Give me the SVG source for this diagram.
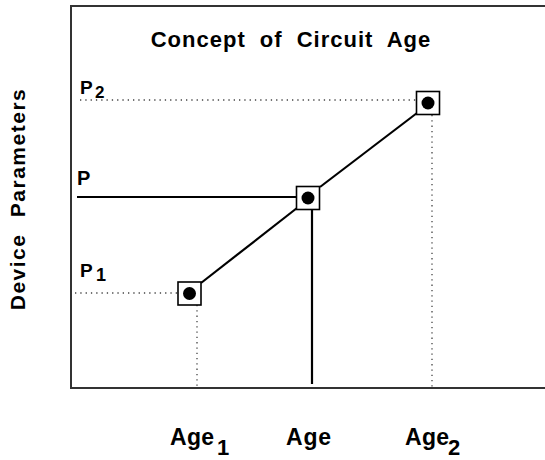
<svg xmlns="http://www.w3.org/2000/svg" width="545" height="460" viewBox="0 0 545 460">
<style>
text{font-family:"Liberation Sans",Arial,sans-serif;font-weight:bold;fill:#000}
.frame{fill:none;stroke:#333;stroke-width:2}
.solid{fill:none;stroke:#000;stroke-width:2.2}
.dot{fill:none;stroke:#444;stroke-width:1.3;stroke-dasharray:1.3 4}
.box{fill:#fff;stroke:#000;stroke-width:1.6}
</style>
<rect width="545" height="460" fill="#fff"/>
<g id="frame">
<path class="frame" d="M545,6 H71 V388 H545"/>
</g>
<g id="connectors">
<path class="dot" d="M80,100 H416"/>
<path class="dot" d="M432,115 V387"/>
<path class="dot" d="M75,293 H177"/>
<path class="dot" d="M197,305 V387"/>
<path class="solid" d="M77,197 H296"/>
<path class="solid" d="M312,210 V384"/>
<path class="solid" d="M201,283 L297,208"/>
<path class="solid" d="M320,187 L417,113"/>
</g>
<g id="node-p2">
<rect class="box" x="416.5" y="91.5" width="23" height="23"/>
<circle cx="428" cy="103" r="6.5"/>
</g>
<g id="node-p">
<rect class="box" x="296.5" y="186.5" width="23" height="23"/>
<circle cx="308" cy="198" r="6.5"/>
</g>
<g id="node-p1">
<rect class="box" x="178" y="282" width="23" height="23"/>
<circle cx="189.5" cy="293.5" r="6.5"/>
</g>
<g id="labels">
<text x="291" y="47" font-size="22" text-anchor="middle" letter-spacing="1" word-spacing="7">Concept of Circuit Age</text>
<text x="80" y="94" font-size="19">P</text>
<text x="95" y="97.5" font-size="17">2</text>
<text x="77" y="184.5" font-size="20">P</text>
<text x="80" y="276.5" font-size="19">P</text>
<text x="96" y="281" font-size="18">1</text>
<text x="170" y="445" font-size="23" letter-spacing="0.3">Age</text>
<text x="217" y="455" font-size="22">1</text>
<text x="286" y="445" font-size="23" letter-spacing="0.8">Age</text>
<text x="405" y="445" font-size="23" letter-spacing="0.3">Age</text>
<text x="448" y="455" font-size="22">2</text>
<text transform="translate(25,199) rotate(-90)" font-size="21" text-anchor="middle" letter-spacing="1.5" word-spacing="9">Device Parameters</text>
</g>
</svg>
